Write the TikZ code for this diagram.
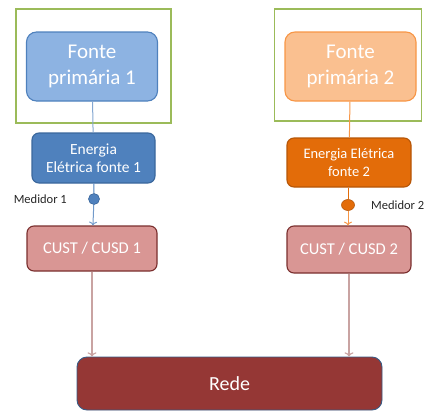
\documentclass[tikz,border=0pt]{standalone}
\usepackage{fontspec}
\setmainfont{Carlito}
\usetikzlibrary{positioning,arrows.meta,shapes.geometric}

\definecolor{verdemoldura}{HTML}{9BBB59}
\definecolor{azulclaro}{HTML}{8DB3E2}
\definecolor{azul}{HTML}{4F81BD}
\definecolor{azulescuro}{HTML}{3A679C}
\definecolor{laranjaclaro}{HTML}{FAC090}
\definecolor{laranja}{HTML}{F79646}
\definecolor{laranjaescuro}{HTML}{E36C09}
\definecolor{vermelhoclaro}{HTML}{D99694}
\definecolor{vermelho}{HTML}{953735}
\definecolor{vermelhoborda}{HTML}{7A2F2E}
\definecolor{setarosa}{HTML}{C9A3A2}

\begin{document}
\begin{tikzpicture}[x=1pt,y=-1pt,
        caixa/.style={rounded corners=7pt,line width=1.1pt,text=white,align=center,inner sep=0pt},
        moldura/.style={draw=verdemoldura,line width=1.6pt,inner sep=0pt},
        rotulo/.style={font=\fontsize{12.5}{14}\selectfont,text=black!85,inner sep=0pt}]
        \useasboundingbox(0,0)rectangle(424,413);

        % quadros verdes
        \node[moldura,minimum width=155pt,minimum height=114pt](moldura1)at(93.5,66){};
        \node[moldura,minimum width=147pt,minimum height=112pt](moldura2)at(348,65){};

        % fonte 1
        \node[caixa,rounded corners=10pt,fill=azulclaro,draw=azul,minimum width=131pt,minimum height=69pt,
              font=\fontsize{21}{26}\selectfont](fonte1)at(92,66.5){Fonte\\primária 1};
        \node[caixa,fill=azul,draw=azulescuro,minimum width=123pt,minimum height=50pt,
              font=\fontsize{15.5}{18}\selectfont](energia1)at(93.5,158){Energia\\Elétrica fonte 1};
        \node[circle,fill=azul,draw=azulescuro,line width=0.6pt,minimum size=11pt,inner sep=0pt](med1)at(94,199){};
        \node[rotulo,anchor=east](txtmed1)at(67,199){Medidor 1};
        \node[caixa,fill=vermelhoclaro,draw=vermelhoborda,minimum width=130pt,minimum height=45pt,
              font=\fontsize{16.5}{19}\selectfont](cust1)at(92,248.5){CUST / CUSD 1};

        % fonte 2
        \node[caixa,rounded corners=10pt,fill=laranjaclaro,draw=laranja,minimum width=131pt,minimum height=69pt,
              font=\fontsize{21}{26}\selectfont](fonte2)at(350.5,66.5){Fonte\\primária 2};
        \node[caixa,fill=laranjaescuro,draw=laranjaescuro!80!black,minimum width=124pt,minimum height=49pt,
              font=\fontsize{14.5}{18}\selectfont](energia2)at(349,162.5){Energia Elétrica\\fonte 2};
        \node[ellipse,fill=laranjaescuro,draw=laranjaescuro!80!black,line width=0.6pt,minimum width=13pt,minimum height=11pt,inner sep=0pt](med2)at(348,205){};
        \node[rotulo,anchor=west](txtmed2)at(371,205){Medidor 2};
        \node[caixa,fill=vermelhoclaro,draw=vermelhoborda,minimum width=124pt,minimum height=47pt,
              font=\fontsize{16.5}{19}\selectfont](cust2)at(349,249.5){CUST / CUSD 2};

        % rede
        \node[caixa,rounded corners=10pt,fill=vermelho,draw=azul!70!black,line width=0.9pt,minimum width=305pt,minimum height=53pt,
              font=\fontsize{20}{24}\selectfont](rede)at(229.5,383.5){Rede};

        % ligacoes
        \draw[azul!70,line width=1pt](fonte1)--(energia1);
        \draw[azul,line width=1pt](energia1)--(med1);
        \draw[->,azul!80,line width=1pt](med1)--(cust1);
        \draw[laranja,line width=1pt](fonte2)--(energia2);
        \draw[laranjaescuro,line width=1pt](energia2.south-|med2)--(med2);
        \draw[->,laranja,line width=1pt](med2)--(med2|-cust2.north);
        \draw[->,setarosa,line width=1.2pt](cust1)--(cust1|-rede.north);
        \draw[->,setarosa,line width=1.2pt](cust2)--(cust2|-rede.north);
    \end{tikzpicture}
\end{document}
